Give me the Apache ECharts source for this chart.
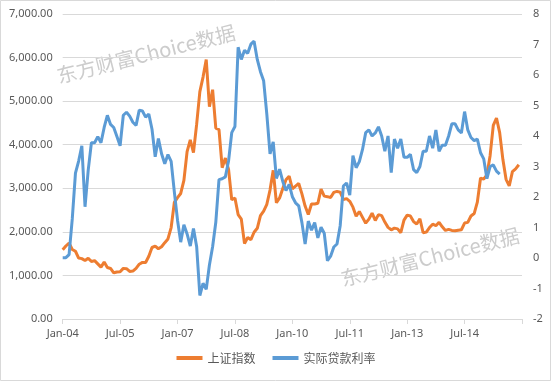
<!DOCTYPE html>
<html>
<head>
<meta charset="utf-8">
<script src="https://cdn.jsdelivr.net/npm/echarts@6/dist/echarts.min.js"></script>
<style>
html,body{margin:0;padding:0;background:#fff;}
#chart{width:552px;height:381px;}
</style>
</head>
<body>
<div id="chart"></div>
<script>
// Category axis: monthly, Jan-04 .. Jan-16
const monthNames = ['Jan','Feb','Mar','Apr','May','Jun','Jul','Aug','Sep','Oct','Nov','Dec'];
const yearLabels = ['04','05','06','07','08','09','10','11','12','13','14','15','16'];
const categories = [];
for (const y of yearLabels) {
  for (const m of monthNames) {
    categories.push(m + '-' + y);
    if (y === '16') break;
  }
}
const xTickLabels = ['Jan-04','Jul-05','Jan-07','Jul-08','Jan-10','Jul-11','Jan-13','Jul-14'];

// 上证指数 (left axis), monthly from Jan-04
const shIndex = [
  1590,1675,1742,1595,1555,1399,1386,1342,1396,1320,1340,1266,
  1191,1306,1181,1160,1060,1080,1083,1162,1155,1092,1099,1161,
  1258,1299,1298,1440,1641,1672,1612,1658,1752,1837,2099,2675,
  2786,2881,3183,3841,4109,3820,4471,5218,5552,5954,4871,5262,
  4383,4348,3473,3693,3433,2736,2776,2397,2293,1729,1871,1821,
  1991,2082,2373,2477,2633,2959,3412,2667,2779,2996,3195,3277,
  2989,3051,3110,2871,2592,2398,2638,2638,2656,2979,2820,2808,
  2790,2905,2928,2911,2743,2762,2701,2567,2359,2468,2333,2199,
  2292,2428,2262,2396,2373,2225,2103,2047,2086,2069,1980,2269,
  2385,2366,2236,2178,2300,1979,1994,2098,2175,2142,2220,2116,
  2033,2056,2033,2026,2039,2048,2202,2217,2364,2420,2683,3235,
  3210,3310,3748,4442,4612,4277,3664,3206,3053,3383,3446,3539
];

// 实际贷款利率 (right axis), as plotted from the Jan-04 position
const realRate = [
  0.01,0.01,0.11,1.28,2.78,3.18,
  3.68,1.68,2.88,3.78,3.78,3.98,3.78,4.28,4.68,4.38,4.28,3.98,
  3.68,4.68,4.78,4.65,4.45,4.35,4.85,4.82,4.62,4.72,4.22,3.32,
  3.92,3.42,3.09,3.39,3.17,2.17,1.24,0.52,1.09,0.79,0.39,0.97,
  0.37,-1.23,-0.83,-1.03,-0.23,0.37,1.17,2.57,2.60,2.66,3.18,4.11,
  4.31,6.91,6.51,6.81,6.71,7.01,7.11,6.51,6.11,5.81,4.71,3.41,
  3.81,2.61,2.91,2.51,2.21,2.41,2.01,1.81,1.71,1.16,0.46,1.21,
  0.91,1.16,0.66,1.01,0.81,-0.09,0.06,0.36,0.46,1.06,2.36,2.46,
  2.06,3.36,2.96,3.16,3.56,4.11,4.20,4.00,4.10,4.30,4.00,3.50,
  4.00,2.80,3.90,3.60,3.90,3.30,3.30,3.40,2.90,2.80,3.00,3.50,
  3.50,4.00,3.60,4.20,3.50,3.70,3.70,4.00,4.40,4.40,4.20,4.10,
  4.80,4.20,3.95,3.85,3.90,3.45,3.25,2.60,3.00,3.05,2.85,2.75
];

const seriesNames = ['上证指数','实际贷款利率'];
const watermarkText = '东方财富Choice数据';

const chart = echarts.init(document.getElementById('chart'), null, {renderer:'canvas'});
const labelColor = '#595959';
const fontFam = '"Noto Sans", "Noto Sans CJK SC", sans-serif';

function fmtLeft(v){
  return Number(v).toFixed(2).replace(/\B(?=(\d{3})+(?!\d))/g, ',');
}

const option = {
  backgroundColor:'#ffffff',
  animation:false,
  textStyle:{fontFamily:fontFam},
  grid:{left:62.7, right:30, top:14, bottom:62, containLabel:false},
  legend:{
    data:seriesNames,
    bottom:12, left:'center',
    icon:'rect', itemWidth:26, itemHeight:4, itemGap:17,
    textStyle:{fontSize:12, color:labelColor, fontFamily:'"Noto Sans CJK SC", sans-serif'}
  },
  xAxis:{
    type:'category',
    data:categories,
    boundaryGap:false,
    axisLine:{show:true, lineStyle:{color:'#d9d9d9', width:1}},
    axisTick:{show:true, length:5, interval:function(i){return i % 18 === 0;}, lineStyle:{color:'#d9d9d9'}},
    axisLabel:{
      interval:function(i, v){return xTickLabels.indexOf(v) >= 0;},
      color:labelColor, fontSize:11, margin:9, fontFamily:fontFam
    },
    splitLine:{show:false}
  },
  yAxis:[
    {
      type:'value', min:0, max:7000, interval:1000, position:'left',
      axisLine:{show:false}, axisTick:{show:false},
      axisLabel:{formatter:fmtLeft, color:labelColor, fontSize:11, margin:10, fontFamily:fontFam},
      splitLine:{show:true, lineStyle:{color:'#d9d9d9', width:1}}
    },
    {
      type:'value', min:-2, max:8, interval:1, position:'right',
      axisLine:{show:false}, axisTick:{show:false},
      axisLabel:{color:labelColor, fontSize:11, margin:11, fontFamily:fontFam},
      splitLine:{show:false}
    }
  ],
  series:[
    {
      name:seriesNames[0], type:'line', yAxisIndex:0, data:shIndex,
      symbol:'none', lineStyle:{color:'#ED7D31', width:3}, itemStyle:{color:'#ED7D31'}, z:3
    },
    {
      name:seriesNames[1], type:'line', yAxisIndex:1, data:realRate,
      symbol:'none', lineStyle:{color:'#5B9BD5', width:3}, itemStyle:{color:'#5B9BD5'}, z:4
    }
  ],
  graphic:[
    {type:'rect', shape:{x:0.5, y:0.5, width:550, height:380}, style:{fill:null, stroke:'#d9d9d9', lineWidth:1}, z:-10, silent:true},
    {type:'text', x:146, y:54, rotation:0.245, z:-5, silent:true,
     style:{text:watermarkText, fill:'#cccccc', font:'20px "Noto Sans CJK SC", sans-serif', textAlign:'center', textVerticalAlign:'middle'}},
    {type:'text', x:430, y:257, rotation:0.245, z:-5, silent:true,
     style:{text:watermarkText, fill:'#cccccc', font:'20px "Noto Sans CJK SC", sans-serif', textAlign:'center', textVerticalAlign:'middle'}}
  ]
};
chart.setOption(option);
</script>
</body>
</html>
